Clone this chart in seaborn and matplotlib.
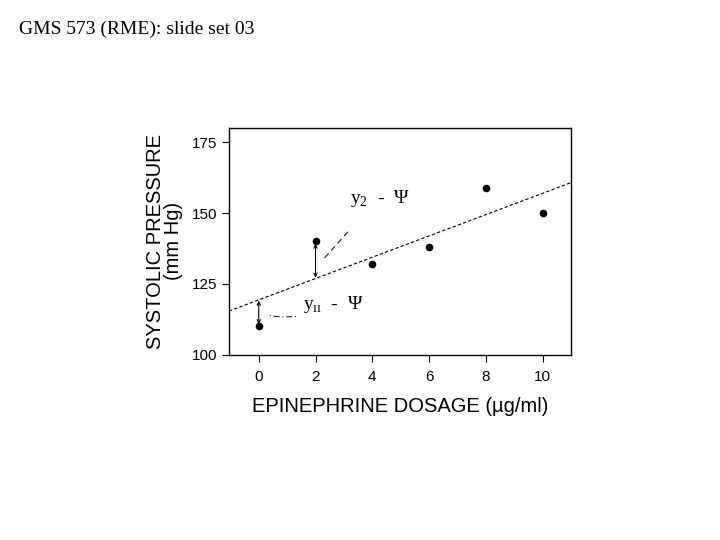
import numpy as np
import pandas as pd
import seaborn as sns
import matplotlib.pyplot as plt

# epinephrine dosage vs systolic pressure
dosage = [0, 2, 4, 6, 8, 10]
pressure = [110, 140, 132, 138, 159, 150]
xticks = [0, 2, 4, 6, 8, 10]
yticks = [100, 125, 150, 175]

df = pd.DataFrame({'dose': dosage, 'sbp': pressure})

sns.set_style('ticks')
plt.rcParams['font.family'] = ['Liberation Sans', 'DejaVu Sans']
plt.rcParams['text.color'] = 'black'
plt.rcParams['axes.labelcolor'] = 'black'

fig = plt.figure(figsize=(7.2, 5.4), dpi=100)
ax = fig.add_axes([0.318, 0.343, 0.475, 0.42])
ax.set_xlim(-1.05, 11)
ax.set_ylim(100, 180)

sns.regplot(data=df, x='dose', y='sbp', ax=ax, ci=None, truncate=False,
            scatter_kws=dict(s=30, color='black', linewidths=0, zorder=3,
                             alpha=1),
            line_kws=dict(color='black', lw=0.8, ls=(0, (3, 2))))

ax.set_xlim(-1.05, 11)
ax.set_ylim(100, 180)
ax.set_xticks(xticks)
ax.set_yticks(yticks)
ax.tick_params(labelsize=11, length=5, width=0.8, direction='out',
               colors='black')
ax.tick_params(axis='x', pad=6)
for s in ax.spines.values():
    s.set_visible(True)
    s.set_linewidth(1)
    s.set_color('black')

ax.set_xlabel('EPINEPHRINE DOSAGE (\u00b5g/ml)', fontsize=14.5, labelpad=9)
ax.set_ylabel('SYSTOLIC PRESSURE\n(mm Hg)', fontsize=14.5, labelpad=6,
              linespacing=0.95)

# residual arrows
slope, icpt = np.polyfit(dosage, pressure, 1)
for i in [0, 1]:
    xv = dosage[i]
    fit = icpt + slope * xv
    ax.annotate('', xy=(xv, fit - np.sign(fit - pressure[i]) * 0.3),
                xytext=(xv, pressure[i] + np.sign(fit - pressure[i]) * 0.8),
                arrowprops=dict(arrowstyle='<->', lw=0.8, color='black',
                                shrinkA=0, shrinkB=0, mutation_scale=6))

ax.plot([2.32, 3.2], [134.2, 144], color='black', lw=0.7, ls=(0, (6, 4)))
ax.plot([0.39, 0.8, 1.33], [113.8, 113.3, 113.5], color='black', lw=0.7,
        ls=(0, (1, 3, 6, 3)))

serif = ['Liberation Serif', 'DejaVu Serif']
lbl2 = 'y' + r'$_{\mathregular{2}}$' + '  -  \u03a8'
lbl1 = 'y' + '$_{\\mathregular{\u0131\u0131}}$' + '  -  \u03a8'
ax.text(3.2, 153.5, lbl2, fontsize=14, family=serif)
ax.text(1.55, 116, lbl1, fontsize=14, family=serif)

fig.text(0.027, 0.962, 'GMS 573 (RME): slide set 03', fontsize=14,
         family=serif, va='top', ha='left')

fig.savefig('out.png', dpi=100)
